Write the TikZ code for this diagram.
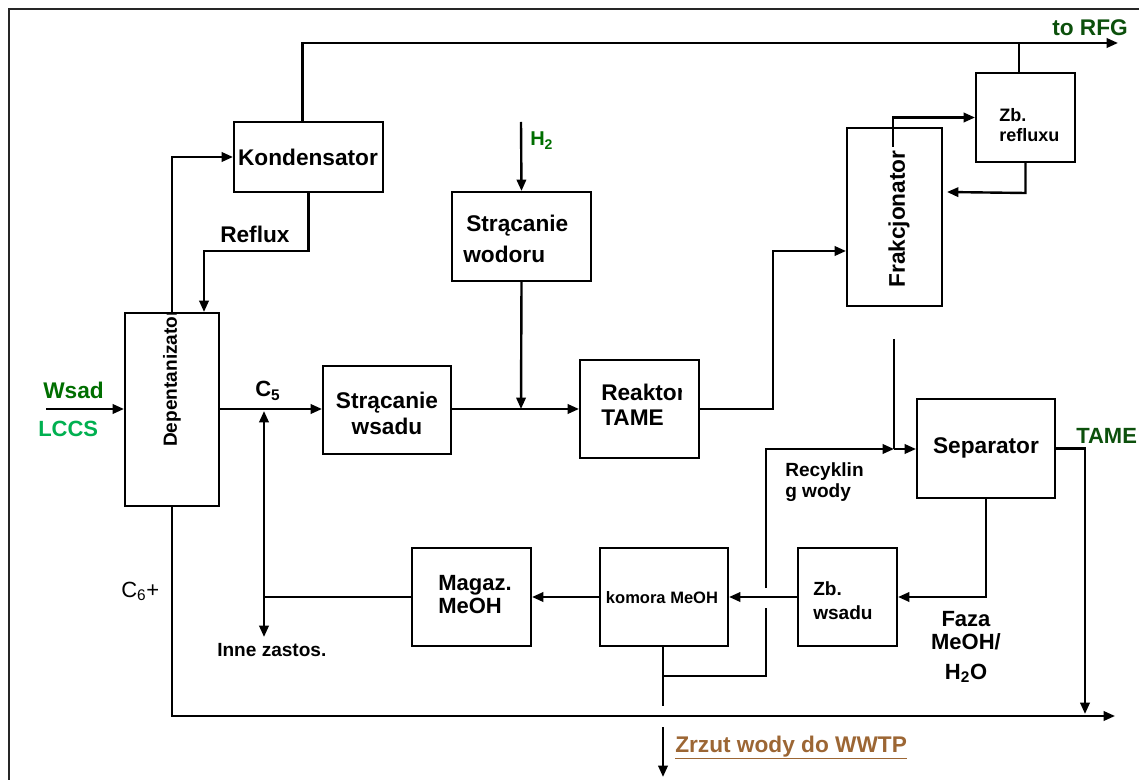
\documentclass[tikz,border=0pt]{standalone}
\usepackage{fontspec}
\setmainfont{Liberation Sans}
\usetikzlibrary{arrows.meta,fit,calc}
\definecolor{deepgreen}{RGB}{12,80,12}
\definecolor{feedgreen}{RGB}{0,110,0}
\definecolor{lccsgreen}{RGB}{0,176,80}
\definecolor{wwtpbrown}{RGB}{156,102,52}
\begin{document}
\begin{tikzpicture}[x=0.75pt,y=-0.75pt,
  unit/.style={draw, line width=1.5pt, inner sep=0pt, rectangle},
  pipe/.style={line width=1.8pt},
  flow/.style={line width=1.8pt, -{Triangle[length=8.5pt,width=7pt]}},
  twoway/.style={line width=1.8pt, {Triangle[length=8.5pt,width=7pt]}-{Triangle[length=8.5pt,width=7pt]}},
  big/.style={inner sep=0pt, anchor=base west, font=\fontsize{17}{20}\selectfont\bfseries},
  mid/.style={inner sep=0pt, anchor=base west, font=\fontsize{16.5}{19}\selectfont\bfseries},
  small/.style={inner sep=0pt, anchor=base west, font=\fontsize{14.3}{17}\selectfont\bfseries},
  tiny/.style={inner sep=0pt, anchor=base west, font=\fontsize{13.5}{16}\selectfont\bfseries},
]
\useasboundingbox (0,0) rectangle (1139,780);

% page frame
\draw[line width=1pt, black!85] (9,780) -- (9,9) -- (1139,9);

% process units
\node[unit, fit={(125,313) (219,506)}] (dep) {};
\node[unit, fit={(234,122) (383,192)}] (kond) {};
\node[unit, fit={(452,192) (591,281)}] (wodor) {};
\node[unit, fit={(323,366) (451,454)}] (wsadu) {};
\node[unit, fit={(580,360) (699,458)}] (reak) {};
\node[unit, fit={(847,128) (942,306)}] (frak) {};
\node[unit, fit={(976,73) (1075,162)}] (zbref) {};
\node[unit, fit={(917,399) (1055,498)}] (sep) {};
\node[unit, fit={(412,548) (531,646)}] (magaz) {};
\node[unit, fit={(600,548) (728,646)}] (komora) {};
\node[unit, fit={(798,548) (897,646)}] (zbwsad) {};

% free ends and junctions
\coordinate (rfg) at (1118,43);
\coordinate (wsadin) at (46,409);
\coordinate (h2in) at (521,122);
\coordinate (mix) at (521,409);
\coordinate (fraktop) at (893,147);
\coordinate (refret) at (947,192);
\coordinate (frakin) at ($(frak.north west)+(0,124)$);
\coordinate (sepin) at (894,339);
\coordinate (jn) at (894,449);
\coordinate (rec1) at (766,588);
\coordinate (rec2) at (766,608);
\coordinate (c5j) at (264,409);
\coordinate (inne) at (264,637);
\coordinate (c6out) at (1115,716);
\coordinate (tameout) at (1085,714);
\coordinate (wwtp) at (663,777);

% depentanizer overhead and reflux
\draw[flow] (dep.north) |- (kond.west);
\draw[flow] (kond.south) -- ++(0,58) -| ($(dep.north)+(32,0)$);
\draw[flow] ($(kond.north)+(-6,0)$) |- (rfg);
\draw[line width=0.9pt] ($(zbref.north)+(-6.5,0)$) -- ++(0,-30);

% fractionator overhead loop
\draw[flow] (fraktop) |- (zbref.west);
\draw[flow] (zbref.south) -- ++(0,30) -- (refret);

% main feed line
\draw[flow] (wsadin) -- (dep.west |- wsadin);
\draw[flow] (dep.east |- c5j) -- (wsadu.west |- c5j);
\draw[flow] (wsadu.east |- mix) -- (reak.west |- mix);
\draw[flow] (h2in) -- (wodor.north);
\draw[flow] (wodor.south) -- (mix);
\draw[flow] (reak.east) -- ++(73,0) |- (frakin);

% separator feed and water recycle
\draw[pipe] (sepin) -- (jn);
\draw[flow] (jn) -- (sep.west |- jn);
\draw[flow] (rec1) -- (rec1 |- jn) -- (jn);
\draw[pipe] (rec2) |- ($(komora.south)+(-1,29)$);
\draw[pipe] ($(komora.south)+(-1,0)$) -- ++(0,59);
\draw[flow] ($(komora.south)+(-1,80)$) -- (wwtp);

% bottoms and products
\draw[flow] (dep.south) |- (c6out);
\draw[flow] (sep.east) -| (tameout);
\draw[flow] (sep.south) |- (zbwsad.east);
\draw[flow] (zbwsad.west) -- (komora.east);
\draw[flow] (komora.west) -- (magaz.east);
\draw[pipe] (magaz.west) -- (magaz.west -| c5j);
\draw[twoway] ($(c5j)+(0,2)$) -- (inne);

% unit labels
\node[big, anchor=base] (tkond) at (308,166) {Kondensator};
\node[big] (twod1) at (466,232) {Strącanie};
\node[big] (twod2) at (463,263) {wodoru};
\node[big, anchor=base] (twsa1) at (387,409) {Strącanie};
\node[big, anchor=base] (twsa2) at (387,435) {wsadu};
\begin{scope}
  \clip (580,360) rectangle (681,458);
  \node[big] (treak1) at (601,401) {Reaktor};
\end{scope}
\node[big] (treak2) at (601,426) {TAME};
\node[tiny] (tzb1) at (999,122) {Zb.};
\node[tiny] (tzb2) at (999,142) {refluxu};
\node[big, anchor=center, rotate=90] (tfrak) at (899,219) {Frakcjonator};
\begin{scope}
  \clip (125,313) rectangle (219,506);
  \node[small, anchor=center, rotate=90] (tdep) at (172,378) {Depentanizator};
\end{scope}
\node[mid] (tmag1) at (438,590) {Magaz.};
\node[mid] (tmag2) at (438,613) {MeOH};
\node[inner sep=0pt, anchor=base, font=\fontsize{12.4}{15}\selectfont\bfseries] (tkom) at (662,603) {komora MeOH};
\node[small] (tzbw1) at (813,595) {Zb.};
\node[small] (tzbw2) at (813,619) {wsadu};
\node[big, anchor=base] (tsep) at (986,454) {Separator};

% stream labels
\node[big, text=deepgreen] (trfg) at (1052,36) {to RFG};
\node[big, text=feedgreen, font=\fontsize{15}{18}\selectfont\bfseries] (th2) at (530,146) {H\textsubscript{2}};
\node[big] (trefl) at (220,243) {Reflux};
\node[big, text=feedgreen] (twsad) at (43,399) {Wsad};
\node[mid, text=lccsgreen] (tlccs) at (38,436) {LCCS};
\node[mid] (tc5) at (255,397) {C\textsubscript{5}};
\node[inner sep=0pt, anchor=base west, font=\fontsize{16.5}{19}\selectfont] (tc6) at (121,597) {C\textsubscript{6}+};
\node[small] (tinne) at (217,656) {Inne zastos.};
\node[small] (trec1) at (785,477) {Recyklin};
\node[small] (trec2) at (785,498) {g wody};
\node[mid, text=deepgreen] (ttame) at (1076,444) {TAME};
\node[mid, anchor=base] (tfaz1) at (966,626) {Faza};
\node[mid, anchor=base] (tfaz2) at (966,649) {MeOH/};
\node[mid, anchor=base] (tfaz3) at (966,679) {H\textsubscript{2}O};
\node[big, text=wwtpbrown] (twwtp) at (675,752) {\underline{Zrzut wody do WWTP}};
\end{tikzpicture}
\end{document}
